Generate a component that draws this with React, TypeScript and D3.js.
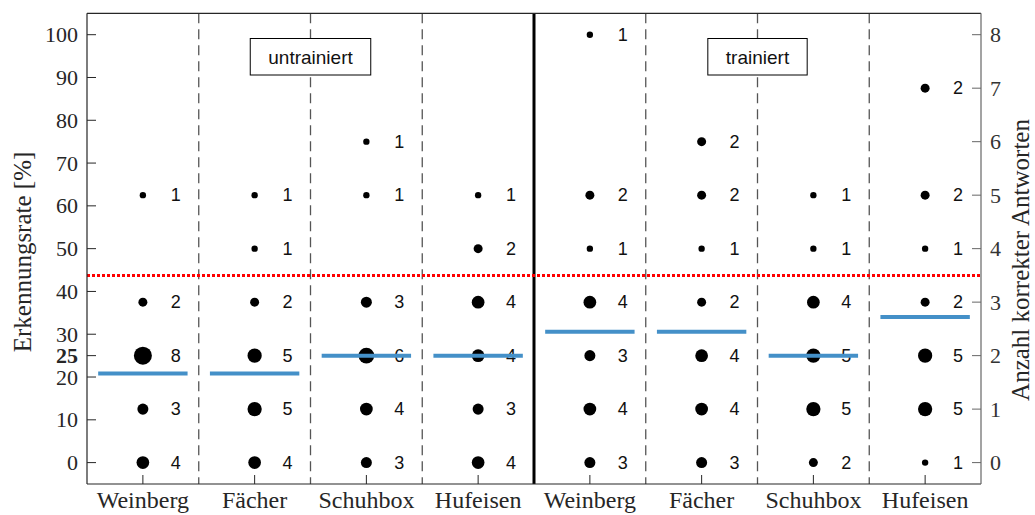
import { useEffect, useRef } from 'react';
import * as d3 from 'd3';

// Categories (two groups of four)
const CATEGORIES = ['Weinberg', 'Fächer', 'Schuhbox', 'Hufeisen', 'Weinberg', 'Fächer', 'Schuhbox', 'Hufeisen'];
const GROUPS = ['untrainiert', 'trainiert'];

// recognition rate levels (%) = correct answers / 8
const RATE_LEVELS = [0, 12.5, 25, 37.5, 50, 62.5, 75, 87.5, 100];

// number of participants per level, one row per category
const COUNTS_UNTRAINED = [
  [4, 3, 8, 2, 0, 1, 0, 0, 0],
  [4, 5, 5, 2, 1, 1, 0, 0, 0],
  [3, 4, 6, 3, 0, 1, 1, 0, 0],
  [4, 3, 4, 4, 2, 1, 0, 0, 0],
];
const COUNTS_TRAINED = [
  [3, 4, 3, 4, 1, 2, 0, 0, 1],
  [3, 4, 4, 2, 1, 2, 2, 0, 0],
  [2, 5, 5, 4, 1, 1, 0, 0, 0],
  [1, 5, 5, 2, 1, 2, 0, 2, 0],
];

const MEANS = [20.8, 20.8, 25, 25, 30.6, 30.6, 25, 34];
const THRESHOLD = 43.75;

const LEFT_TICKS = [0, 10, 20, 30, 40, 50, 60, 70, 80, 90, 100];
const RIGHT_TICKS = [0, 1, 2, 3, 4, 5, 6, 7, 8];

const W = 1035;
const H = 515;
const SERIF = '"Liberation Serif", "Times New Roman", serif';
const SANS = '"Liberation Sans", Arial, sans-serif';

export default function App() {
  const svgRef = useRef<SVGSVGElement | null>(null);

  useEffect(() => {
    if (!svgRef.current) return;
    const svg = d3.select(svgRef.current);
    svg.selectAll('*').remove();

    const left = 87, right = 981, top = 13.3, bottom = 484;

    const x = d3.scaleBand<number>()
      .domain(CATEGORIES.map((_, i) => i))
      .range([left, right])
      .padding(0);
    const y = d3.scaleLinear().domain([-5, 105]).range([bottom, top]);
    const yR = d3.scaleLinear().domain([-0.4, 8.4]).range([bottom, top]);
    const r = d3.scaleSqrt().domain([0, 8]).range([0, 9]);
    const cx = (i: number) => (x(i) ?? 0) + x.bandwidth() / 2;

    svg.append('rect').attr('width', W).attr('height', H).attr('fill', '#fff');

    // dashed separators + solid group separator
    CATEGORIES.slice(1).forEach((_, k) => {
      const i = k + 1;
      const xx = x(i) ?? 0;
      const solid = i === 4;
      svg.append('line')
        .attr('x1', xx).attr('x2', xx)
        .attr('y1', top).attr('y2', bottom)
        .attr('stroke', solid ? '#000' : '#555')
        .attr('stroke-width', solid ? 3 : 1.3)
        .attr('stroke-dasharray', solid ? null : '10 6');
    });

    // dots and count labels
    const rows = [...COUNTS_UNTRAINED, ...COUNTS_TRAINED];
    rows.forEach((counts, i) => {
      counts.forEach((n, j) => {
        if (!n) return;
        const yy = y(RATE_LEVELS[j]);
        svg.append('circle')
          .attr('cx', cx(i)).attr('cy', yy)
          .attr('r', r(n))
          .attr('fill', '#000');
        svg.append('text')
          .attr('x', cx(i) + 33).attr('y', yy)
          .attr('text-anchor', 'middle')
          .attr('dominant-baseline', 'central')
          .attr('font-family', SANS)
          .attr('font-size', 18)
          .attr('fill', '#111')
          .text(n);
      });
    });

    // mean lines
    MEANS.forEach((m, i) => {
      const half = x.bandwidth() * 0.4;
      svg.append('line')
        .attr('x1', cx(i) - half).attr('x2', cx(i) + half)
        .attr('y1', y(m)).attr('y2', y(m))
        .attr('stroke', '#4490c8')
        .attr('stroke-width', 4);
    });

    // threshold line
    svg.append('line')
      .attr('x1', left).attr('x2', right)
      .attr('y1', y(THRESHOLD)).attr('y2', y(THRESHOLD))
      .attr('stroke', '#ff0000')
      .attr('stroke-width', 3)
      .attr('stroke-dasharray', '3 2');

    // group boxes
    GROUPS.forEach((g, k) => {
      const xc = x(k * 4 + 2) ?? 0;
      const tmp = svg.append('text')
        .attr('font-family', SANS)
        .attr('font-size', 19)
        .attr('text-anchor', 'middle')
        .attr('dominant-baseline', 'central')
        .attr('x', xc).attr('y', 57)
        .attr('fill', '#111')
        .text(g);
      const bw = ((tmp.node() as SVGTextElement).getComputedTextLength() || 80) + 36;
      svg.insert('rect', () => tmp.node() as any)
        .attr('x', xc - bw / 2).attr('y', 38.5)
        .attr('width', bw).attr('height', 36.5)
        .attr('fill', '#fff')
        .attr('stroke', '#000')
        .attr('stroke-width', 1);
    });

    // frame
    svg.append('line').attr('x1', left).attr('x2', right).attr('y1', top).attr('y2', top)
      .attr('stroke', '#262626').attr('stroke-width', 1.2);
    svg.append('line').attr('x1', left).attr('x2', right).attr('y1', bottom).attr('y2', bottom)
      .attr('stroke', '#262626').attr('stroke-width', 1.2);
    svg.append('line').attr('x1', left).attr('x2', left).attr('y1', top).attr('y2', bottom)
      .attr('stroke', '#262626').attr('stroke-width', 1.2);
    svg.append('line').attr('x1', right).attr('x2', right).attr('y1', top).attr('y2', bottom)
      .attr('stroke', '#666').attr('stroke-width', 1.2);

    // left axis ticks (25 is an extra, bold label as in the original)
    [...LEFT_TICKS, 25].forEach((t) => {
      svg.append('line')
        .attr('x1', left).attr('x2', left + 9)
        .attr('y1', y(t)).attr('y2', y(t))
        .attr('stroke', '#262626').attr('stroke-width', 1);
      svg.append('text')
        .attr('x', left - 9).attr('y', y(t))
        .attr('text-anchor', 'end')
        .attr('dominant-baseline', 'central')
        .attr('font-family', SERIF)
        .attr('font-size', 22)
        .attr('font-weight', t === 25 ? 'bold' : 'normal')
        .attr('fill', '#262626')
        .text(t);
    });

    // right axis ticks
    RIGHT_TICKS.forEach((t) => {
      svg.append('line')
        .attr('x1', right - 9).attr('x2', right)
        .attr('y1', yR(t)).attr('y2', yR(t))
        .attr('stroke', '#666').attr('stroke-width', 1);
      svg.append('text')
        .attr('x', right + 9).attr('y', yR(t))
        .attr('text-anchor', 'start')
        .attr('dominant-baseline', 'central')
        .attr('font-family', SERIF)
        .attr('font-size', 22)
        .attr('fill', '#333')
        .text(t);
    });

    // x ticks + labels
    CATEGORIES.forEach((c, i) => {
      svg.append('line')
        .attr('x1', cx(i)).attr('x2', cx(i))
        .attr('y1', bottom).attr('y2', bottom - 9)
        .attr('stroke', '#262626').attr('stroke-width', 1);
      svg.append('text')
        .attr('x', cx(i)).attr('y', 508)
        .attr('text-anchor', 'middle')
        .attr('font-family', SERIF)
        .attr('font-size', 24)
        .attr('fill', '#262626')
        .text(c);
    });

    // axis titles
    svg.append('text')
      .attr('transform', 'translate(22,252) rotate(-90)')
      .attr('text-anchor', 'middle')
      .attr('dominant-baseline', 'central')
      .attr('font-family', SERIF)
      .attr('font-size', 25)
      .attr('fill', '#262626')
      .text('Erkennungsrate [%]');
    svg.append('text')
      .attr('transform', 'translate(1020,260) rotate(-90)')
      .attr('text-anchor', 'middle')
      .attr('dominant-baseline', 'central')
      .attr('font-family', SERIF)
      .attr('font-size', 25)
      .attr('fill', '#262626')
      .text('Anzahl korrekter Antworten');
  }, []);

  return (
    <svg
      ref={svgRef}
      width={W}
      height={H}
      style={{ position: 'absolute', left: 0, top: 0 }}
    />
  );
}
